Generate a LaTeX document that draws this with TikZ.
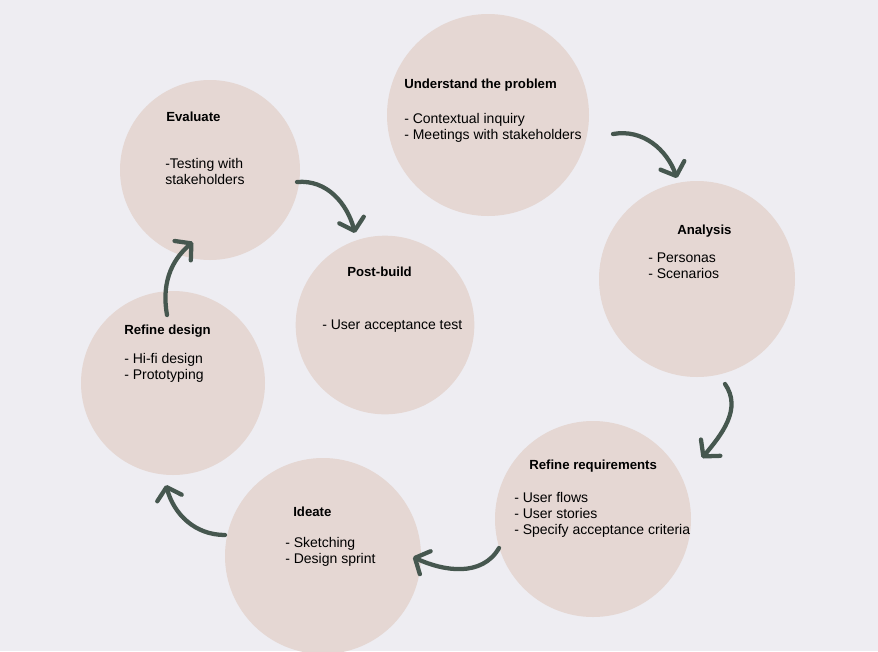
\documentclass[tikz,border=0pt]{standalone}
\usepackage{fontspec}
\setmainfont{Liberation Sans}
\usepackage{tikz}
\usepackage{xcolor}
\usetikzlibrary{arrows.meta}
\definecolor{bgcol}{HTML}{EEEDF2}
\definecolor{circlecol}{HTML}{E5D7D3}
\definecolor{arrowcol}{HTML}{46574F}
\tikzset{
    stage_circle/.style={circle, fill=circlecol, inner sep=0pt},
    stage_title/.style={font=\fontsize{9.9}{12}\selectfont\bfseries, anchor=mid west, inner sep=0pt},
    stage_body/.style={font=\fontsize{10.5}{12}\selectfont, align=left, anchor=north west, inner sep=0pt},
    cycle_arrow/.style={-{Straight Barb[length=8.5pt, width=19pt, round]}, line width=3.2pt, draw=arrowcol, line cap=round}
}

\begin{document}
\begin{tikzpicture}[x=0.75pt, y=-0.75pt]

\useasboundingbox (0,0) rectangle (878,651);
\fill[bgcol] (0,0) rectangle (878,651);

% stages
\node[stage_circle, minimum size=151.5pt] (understand) at (488,115) {};
\node[stage_circle, minimum size=147pt]   (analysis)   at (697,279) {};
\node[stage_circle, minimum size=147pt]   (requirements) at (593,519) {};
\node[stage_circle, minimum size=147pt]   (ideate)     at (323,556) {};
\node[stage_circle, minimum size=138pt]   (design)     at (173,383) {};
\node[stage_circle, minimum size=135pt]   (evaluate)   at (210,170) {};
\node[stage_circle, minimum size=134pt]   (postbuild)  at (385,325) {};

\node[stage_title] (understand_t) at (404,85) {Understand the problem};
\node[stage_body]  (understand_b) at (404,113) {- Contextual inquiry\\- Meetings with stakeholders};

\node[stage_title] (analysis_t) at (677,231) {Analysis};
\node[stage_body]  (analysis_b) at (648,253) {- Personas\\- Scenarios};

\node[stage_title] (requirements_t) at (529,466) {Refine requirements};
\node[stage_body]  (requirements_b) at (514,492) {- User flows\\- User stories\\- Specify acceptance criteria};

\node[stage_title] (ideate_t) at (293,513) {Ideate};
\node[stage_body]  (ideate_b) at (285,537) {- Sketching\\- Design sprint};

\node[stage_title] (design_t) at (124,331) {Refine design};
\node[stage_body]  (design_b) at (124,353) {- Hi-fi design\\- Prototyping};

\node[stage_title] (evaluate_t) at (166,118) {Evaluate};
\node[stage_body]  (evaluate_b) at (165,158) {-Testing with\\stakeholders};

\node[stage_title] (postbuild_t) at (347,273) {Post-build};
\node[stage_body]  (postbuild_b) at (322,320) {- User acceptance test};

% arrow ends
\coordinate (a1s) at (613,134);
\coordinate (a1e) at (677,178);
\coordinate (a2s) at (725,384);
\coordinate (a2e) at (702,458);
\coordinate (a3s) at (499,548);
\coordinate (a3e) at (413,557);
\coordinate (a4s) at (225,535);
\coordinate (a4e) at (166,485);
\coordinate (a5s) at (167,315);
\coordinate (a5e) at (193,242);
\coordinate (a6s) at (297,182);
\coordinate (a6e) at (355,233);

\draw[cycle_arrow] (a1s) to[out=10, in=110] (a1e);
\draw[cycle_arrow] (a2s) to[out=-55, in=50] (a2e);
\draw[cycle_arrow] (a3s) to[out=-120, in=-25] (a3e);
\draw[cycle_arrow] (a4s) to[out=180, in=-75] (a4e);
\draw[cycle_arrow] (a5s) to[out=100, in=-140] (a5e);
\draw[cycle_arrow] (a6s) to[out=5, in=105] (a6e);

\end{tikzpicture}
\end{document}
